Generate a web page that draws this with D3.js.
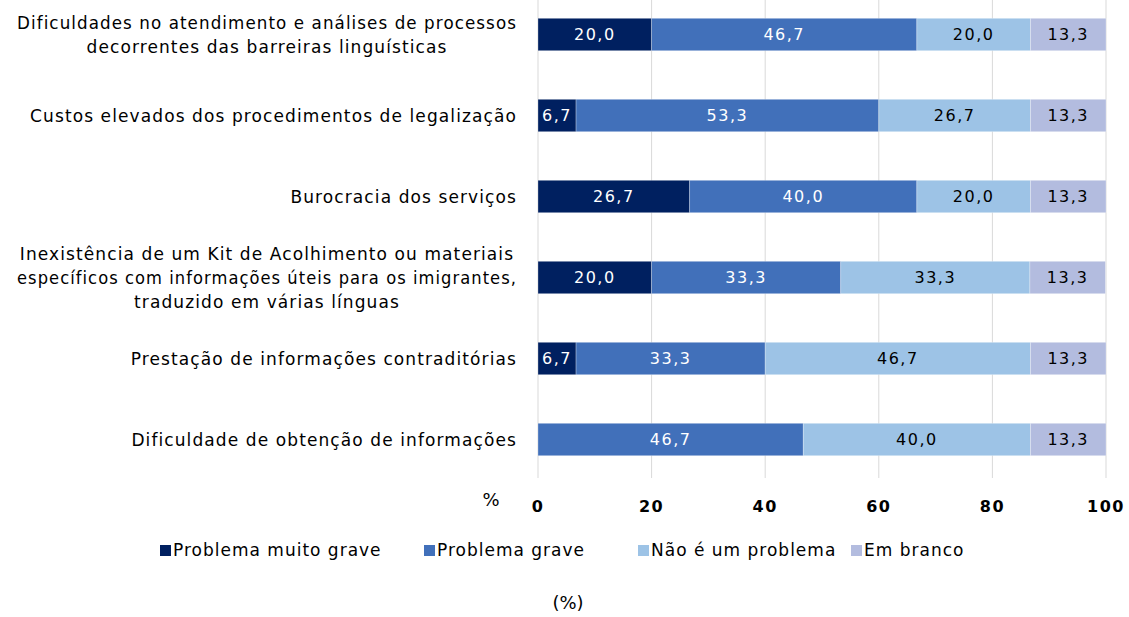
<!DOCTYPE html>
<html>
<head>
<meta charset="utf-8">
<script src="https://cdn.jsdelivr.net/npm/d3@7"></script>
<style>
  body { margin: 0; background: #fff; }
  text { font-family: "DejaVu Sans", sans-serif; }
</style>
</head>
<body>
<div id="chart"></div>
<script>
// categorias (cada uma com as suas linhas)
const categorias = [
  ["Dificuldades no atendimento e análises de processos", "decorrentes das barreiras linguísticas"],
  ["Custos elevados dos procedimentos de legalização"],
  ["Burocracia dos serviços"],
  ["Inexistência de um Kit de Acolhimento ou materiais", "específicos com informações úteis para os imigrantes,", "traduzido em várias línguas"],
  ["Prestação de informações contraditórias"],
  ["Dificuldade de obtenção de informações"]
];
const series = ["Problema muito grave", "Problema grave", "Não é um problema", "Em branco"];
const muitoGrave = [20.0, 6.7, 26.7, 20.0, 6.7, 0];
const grave = [46.7, 53.3, 40.0, 33.3, 33.3, 46.7];
const naoProblema = [20.0, 26.7, 20.0, 33.3, 46.7, 40.0];
const emBranco = [13.3, 13.3, 13.3, 13.3, 13.3, 13.3];
const ticks = [0, 20, 40, 60, 80, 100];

const cores = ["#002060", "#4170BA", "#9DC3E6", "#B3BCDF"];
const corTexto = ["#fff", "#fff", "#000", "#000"];

const width = 1129, height = 617;
const svg = d3.select("#chart").append("svg")
  .attr("width", width).attr("height", height);

const x = d3.scaleLinear().domain([0, 100]).range([538, 1106]);
const y = d3.scaleBand().domain(d3.range(categorias.length)).range([-6, 480]).paddingInner(0.6).paddingOuter(0.3);

// linhas de grelha
svg.append("g").selectAll("line").data(ticks).join("line")
  .attr("x1", d => x(d)).attr("x2", d => x(d))
  .attr("y1", 0).attr("y2", 478)
  .attr("stroke", "#d9d9d9").attr("stroke-width", 1);

const dados = categorias.map((c, i) => ({
  i: i,
  vals: [muitoGrave[i], grave[i], naoProblema[i], emBranco[i]]
}));

const linhas = svg.append("g").selectAll("g").data(dados).join("g");

linhas.each(function (d) {
  const g = d3.select(this);
  let acum = 0;
  d.vals.forEach((v, k) => {
    const x0 = acum;
    acum += v;
    if (v <= 0) return;
    g.append("rect")
      .attr("x", x(x0)).attr("width", x(acum) - x(x0))
      .attr("y", y(d.i)).attr("height", y.bandwidth())
      .attr("fill", cores[k])
      .attr("stroke", "#fff").attr("stroke-opacity", 0.35).attr("stroke-width", 0.8);
    g.append("text")
      .attr("x", (x(x0) + x(acum)) / 2)
      .attr("y", y(d.i) + y.bandwidth() / 2)
      .attr("dy", "0.36em")
      .attr("text-anchor", "middle")
      .attr("fill", corTexto[k])
      .attr("font-size", 16)
      .attr("letter-spacing", 1.5)
      .text(d3.format(".1f")(v).replace(".", ","));
  });
});

// rótulos das categorias: linhas centradas entre si, bloco alinhado à direita em 517
const maxLinha = 500;
svg.append("g").selectAll("text").data(categorias).join("text")
  .attr("text-anchor", "middle")
  .attr("font-size", 17)
  .attr("letter-spacing", 1.1)
  .attr("fill", "#000")
  .each(function (linhasTxt, i) {
    const t = d3.select(this);
    const cy = y(i) + y.bandwidth() / 2;
    const lh = 24;
    const y0 = cy - (linhasTxt.length - 1) * lh / 2;
    const spans = linhasTxt.map((l, j) =>
      t.append("tspan").attr("x", 0).attr("y", y0 + j * lh).attr("dy", "0.36em").text(l));
    spans.forEach(s => {
      if (s.node().getComputedTextLength() > maxLinha)
        s.attr("textLength", maxLinha).attr("lengthAdjust", "spacingAndGlyphs");
    });
    const w = d3.max(spans, s => Math.min(maxLinha, s.node().getComputedTextLength()));
    spans.forEach(s => s.attr("x", 517 - w / 2));
  });

// eixo x
svg.append("g").selectAll("text").data(ticks).join("text")
  .attr("x", d => x(d)).attr("y", 506)
  .attr("dy", "0.36em")
  .attr("text-anchor", "middle")
  .attr("font-size", 16).attr("letter-spacing", 1.5)
  .attr("font-weight", "bold")
  .attr("fill", "#000")
  .text(d => d);

svg.append("text").attr("x", 491).attr("y", 500).attr("dy", "0.36em")
  .attr("text-anchor", "middle").attr("font-size", 18).text("%");

// legenda
const legX = [160, 424, 638, 851];
const leg = svg.append("g").selectAll("g").data(series).join("g")
  .attr("transform", (d, i) => `translate(${legX[i]},550)`);
leg.append("rect").attr("x", 0).attr("y", -5).attr("width", 11).attr("height", 11)
  .attr("fill", (d, i) => cores[i]);
leg.append("text").attr("x", 13).attr("y", 0).attr("dy", "0.36em")
  .attr("font-size", 17).attr("letter-spacing", 1.0).attr("fill", "#000").text(d => d);

svg.append("text").attr("x", 568).attr("y", 603).attr("dy", "0.36em")
  .attr("text-anchor", "middle").attr("font-size", 18).text("(%)");
</script>
</body>
</html>
